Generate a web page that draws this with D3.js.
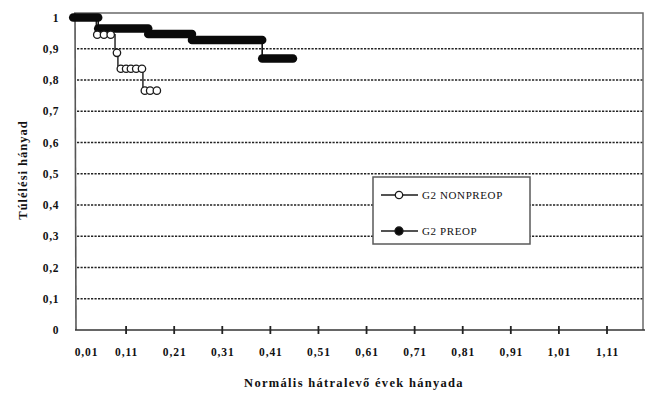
<!DOCTYPE html>
<html>
<head>
<meta charset="utf-8">
<script src="https://cdn.jsdelivr.net/npm/d3@7"></script>
<style>
  html, body { margin: 0; padding: 0; background: #fff; }
  svg { display: block; }
  text { font-family: "Liberation Serif", "Times New Roman", serif; fill: #111; }
</style>
</head>
<body>
<svg id="chart" width="647" height="397"></svg>
<script>
// Axis ticks
const xTicks = [0.01, 0.11, 0.21, 0.31, 0.41, 0.51, 0.61, 0.71, 0.81, 0.91, 1.01, 1.11];
const yTicks = [0, 0.1, 0.2, 0.3, 0.4, 0.5, 0.6, 0.7, 0.8, 0.9, 1];

// G2 PREOP: Kaplan–Meier steps (drop times, survival on each interval, end of follow-up)
const preopDropTimes = [0.052, 0.156, 0.247, 0.393];
const preopSurvival  = [1, 0.965, 0.947, 0.928, 0.869];
const preopStart = 0;
const preopEnd = 0.457;

// G2 NONPREOP: steps plus censored observations (open circles)
const nonpreopDropTimes = [0.048, 0.087, 0.093, 0.145];
const nonpreopSurvival  = [1, 0.945, 0.887, 0.836, 0.766];
const nonpreopCensored  = [0.05, 0.064, 0.078, 0.091, 0.099, 0.11, 0.12, 0.131, 0.143, 0.149, 0.16, 0.174];
const nonpreopStart = 0;

const legendNames = ["G2 NONPREOP", "G2 PREOP"];

const svg = d3.select("#chart");
const x = d3.scaleLinear().domain([0.01, 1.11]).range([78, 607]);
const y = d3.scaleLinear().domain([0, 1]).range([330, 17.5]);
const plotRight = 643, plotTop = 13;
const fmt = v => String(v).replace(".", ",");

// Survival at time t for a step curve
function survAt(t, drops, surv) {
  let i = 0;
  while (i < drops.length && t >= drops[i]) i++;
  return surv[i];
}
// Build step segments [{x0,x1,s}] from drop times
function steps(start, end, drops, surv) {
  const bounds = [start, ...drops, end];
  return surv.map((s, i) => ({ x0: bounds[i], x1: bounds[i + 1], s }));
}

// Dotted horizontal gridlines
svg.append("g").selectAll("line")
  .data(yTicks.filter(v => v > 0 && v < 1))
  .join("line")
  .attr("x1", x(0.01) - 1).attr("x2", plotRight)
  .attr("y1", d => y(d)).attr("y2", d => y(d))
  .attr("stroke", "#222").attr("stroke-width", 1.4)
  .attr("stroke-dasharray", "2.2,1.3");

// Frame: top and right border, y axis line
svg.append("path")
  .attr("d", `M${x(0.01) - 4},${plotTop}H${plotRight}V${y(0)}`)
  .attr("fill", "none").attr("stroke", "#6a6a6a").attr("stroke-width", 1.5);
svg.append("line")
  .attr("x1", x(0.01) - 3).attr("x2", x(0.01) - 2)
  .attr("y1", plotTop).attr("y2", y(0))
  .attr("stroke", "#555").attr("stroke-width", 1.6);

// X axis
const xAxis = d3.axisBottom(x).tickValues(xTicks).tickFormat(fmt).tickSize(0).tickPadding(18);
const gx = svg.append("g").attr("transform", `translate(0,${y(0)})`).call(xAxis);
gx.select(".domain").remove();
gx.selectAll("text")
  .attr("font-size", 11.5).attr("font-weight", "bold").attr("letter-spacing", 0.9)
  .attr("font-family", "Liberation Serif, serif").attr("fill", "#111")
  .attr("dx", (d, i) => i === 0 ? 8 : 0);
svg.append("line")
  .attr("x1", x(0.01) - 3).attr("x2", plotRight + 2)
  .attr("y1", y(0)).attr("y2", y(0))
  .attr("stroke", "#333").attr("stroke-width", 1.6);
svg.append("g").selectAll("line")
  .data(xTicks.slice(1))
  .join("line")
  .attr("x1", d => x(d)).attr("x2", d => x(d))
  .attr("y1", y(0) - 4).attr("y2", y(0) + 4)
  .attr("stroke", "#222").attr("stroke-width", 1.8);

// Y axis labels
const yAxis = d3.axisLeft(y).tickValues(yTicks).tickFormat(fmt).tickSize(0).tickPadding(19);
const gy = svg.append("g").attr("transform", `translate(${x(0.01)},0)`).call(yAxis);
gy.select(".domain").remove();
gy.selectAll("text")
  .attr("font-size", 11.5).attr("font-weight", "bold").attr("letter-spacing", 0.6)
  .attr("font-family", "Liberation Serif, serif").attr("fill", "#111");

// Axis titles
svg.append("text")
  .attr("transform", "translate(27,170) rotate(-90)")
  .attr("text-anchor", "middle").attr("font-size", 12.5).attr("font-weight", "bold")
  .attr("letter-spacing", 1)
  .text("Túlélési hányad");
svg.append("text")
  .attr("x", 354).attr("y", 387)
  .attr("text-anchor", "middle").attr("font-size", 12.5).attr("font-weight", "bold")
  .attr("letter-spacing", 1.3)
  .text("Normális hátralevő évek hányada");

// NONPREOP step line
const nonSteps = steps(nonpreopStart, d3.max(nonpreopCensored), nonpreopDropTimes, nonpreopSurvival);
const stepLine = segs => {
  let d = "";
  segs.forEach((s, i) => {
    d += (i === 0 ? "M" : "V") + (i === 0 ? `${x(s.x0)},${y(s.s)}` : `${y(s.s)}`);
    d += `H${x(s.x1)}`;
  });
  return d;
};
svg.append("path").attr("d", stepLine(nonSteps))
  .attr("fill", "none").attr("stroke", "#1a1a1a").attr("stroke-width", 1.4);

// PREOP: thin connectors plus dense filled markers forming thick bands
const preSteps = steps(preopStart, preopEnd, preopDropTimes, preopSurvival);
svg.append("path").attr("d", stepLine(preSteps))
  .attr("fill", "none").attr("stroke", "#111").attr("stroke-width", 1.6);
svg.append("g").selectAll("line")
  .data(preSteps)
  .join("line")
  .attr("x1", d => x(d.x0)).attr("x2", d => x(d.x1))
  .attr("y1", d => y(d.s)).attr("y2", d => y(d.s))
  .attr("stroke", "#0a0a0a").attr("stroke-width", 8.5).attr("stroke-linecap", "round");

// NONPREOP censored markers
svg.append("g").selectAll("circle")
  .data(nonpreopCensored)
  .join("circle")
  .attr("cx", d => x(d))
  .attr("cy", d => y(survAt(d, nonpreopDropTimes, nonpreopSurvival)))
  .attr("r", 3.7)
  .attr("fill", "#fff").attr("stroke", "#1a1a1a").attr("stroke-width", 1.3);

// Legend
const lg = svg.append("g");
lg.append("rect").attr("x", 373).attr("y", 177).attr("width", 157).attr("height", 67)
  .attr("fill", "#fff").attr("stroke", "#5a5a5a").attr("stroke-width", 1.5);
const items = lg.selectAll("g.item").data(legendNames).join("g")
  .attr("class", "item")
  .attr("transform", (d, i) => `translate(0,${195 + i * 36})`);
items.append("line").attr("x1", 381).attr("x2", 418).attr("y1", 0).attr("y2", 0)
  .attr("stroke", "#1a1a1a").attr("stroke-width", 1.4);
items.append("circle").attr("cx", 399).attr("cy", 0).attr("r", (d, i) => i === 0 ? 3.7 : 4)
  .attr("fill", (d, i) => i === 0 ? "#fff" : "#0a0a0a")
  .attr("stroke", "#1a1a1a").attr("stroke-width", 1.3);
items.append("text").attr("x", 422).attr("y", 4)
  .attr("font-size", 11).attr("letter-spacing", 0.6).attr("fill", "#3a3a3a")
  .text(d => d);
</script>
</body>
</html>
